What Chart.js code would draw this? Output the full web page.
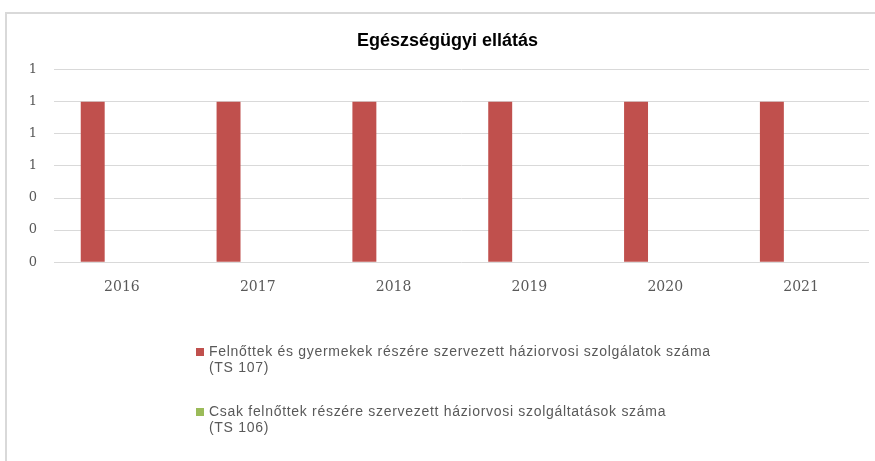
<!DOCTYPE html>
<html>
<head>
<meta charset="utf-8">
<script src="https://cdn.jsdelivr.net/npm/chart.js@4"></script>
<style>
    html, body { margin: 0; padding: 0; background: #fff; }
    #wrap { position: relative; width: 875px; height: 461px; overflow: hidden; }
    #frame {
        position: absolute; left: 5px; top: 12px; width: 900px; height: 480px;
        border-top: 2px solid #d9d9d9; border-left: 2px solid #d9d9d9;
    }
    #chart { position: absolute; left: 0; top: 0; }
</style>
</head>
<body>
<div id="wrap">
    <div id="frame"></div>
    <canvas id="chart" width="875" height="461"></canvas>
</div>
<script>
// adatok
const years = ['2016', '2017', '2018', '2019', '2020', '2021'];
const felnottGyermek = [1, 1, 1, 1, 1, 1];   // TS 107
const csakFelnott = [0, 0, 0, 0, 0, 0];      // TS 106
const yTickLabels = ['0', '0', '0', '1', '1', '1', '1'];
const seriesLabels = [
    ['Felnőttek és gyermekek részére szervezett háziorvosi szolgálatok száma', '(TS 107)'],
    ['Csak felnőttek részére szervezett háziorvosi szolgáltatások száma', '(TS 106)']
];
const colors = ['#C0504D', '#9BBB59'];

// legenda kézzel (többsoros, balra igazított)
const legendaPlugin = {
    id: 'legenda',
    afterDraw(chart) {
        const ctx = chart.ctx;
        const left = 196;
        let y = 352;
        ctx.save();
        ctx.font = '14px "Liberation Sans"';
        ctx.letterSpacing = '0.7px';
        ctx.textBaseline = 'middle';
        ctx.textAlign = 'left';
        chart.data.datasets.forEach((ds, i) => {
            ctx.fillStyle = ds.backgroundColor;
            ctx.fillRect(left, y - 4, 8, 8);
            ctx.fillStyle = '#595959';
            seriesLabels[i].forEach((line, j) => {
                ctx.fillText(line, left + 13, y + j * 16.5);
            });
            y += 60;
        });
        ctx.restore();
    }
};

const ctx = document.getElementById('chart').getContext('2d');
new Chart(ctx, {
    type: 'bar',
    data: {
        labels: years,
        datasets: [
            { label: seriesLabels[0].join(' '), data: felnottGyermek, backgroundColor: colors[0] },
            { label: seriesLabels[1].join(' '), data: csakFelnott, backgroundColor: colors[1] }
        ]
    },
    options: {
        responsive: false,
        animation: false,
        layout: { padding: { top: 13, left: 26, right: 6, bottom: 148 } },
        datasets: { bar: { categoryPercentage: 0.86, barPercentage: 0.41 } },
        plugins: {
            legend: { display: false },
            tooltip: { enabled: false },
            title: {
                display: true,
                text: 'Egészségügyi ellátás',
                color: '#000',
                font: { family: '"Liberation Sans"', size: 18, weight: 'bold' },
                padding: { top: 17, bottom: 18 }
            }
        },
        scales: {
            x: {
                grid: { display: false, drawTicks: false },
                border: { display: false },
                ticks: {
                    color: '#595959',
                    padding: 17,
                    font: { family: '"DejaVu Serif"', size: 14 }
                }
            },
            y: {
                min: 0,
                max: 1.2,
                afterFit(scale) { scale.width = 28; },
                grid: { color: '#d9d9d9', drawTicks: false },
                border: { display: false },
                ticks: {
                    stepSize: 0.2,
                    color: '#595959',
                    padding: 17,
                    font: { family: '"DejaVu Serif"', size: 13 },
                    callback: (v, i) => yTickLabels[i]
                }
            }
        }
    },
    plugins: [legendaPlugin]
});
</script>
</body>
</html>
